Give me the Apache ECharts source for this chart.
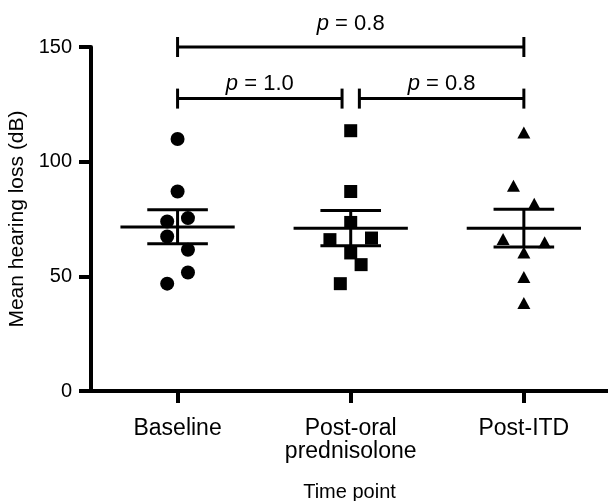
<!DOCTYPE html>
<html>
<head>
<meta charset="utf-8">
<script src="https://cdn.jsdelivr.net/npm/echarts@6/dist/echarts.min.js"></script>
<style>
    html, body, #main {
        width: 100%;
        height: 100%;
        margin: 0;
        background: #fff;
    }
</style>
</head>
<body>
<div id="main"></div>
<script>
    var categories = ['Baseline', 'Post-oral\nprednisolone', 'Post-ITD'];
    var yTicks = [0, 50, 100, 150];

    // individual patients: [x position, dB]
    var baseline = [[1, 109.9], [1, 87.0], [1.06, 75.4], [0.94, 73.9], [0.94, 67.4], [1.06, 61.6], [1.06, 51.7], [0.94, 46.8]];
    var postOral = [[2, 113.5], [2, 87.0], [2, 73.5], [1.88, 66.0], [2.12, 66.7], [2, 60.2], [2.06, 55.1], [1.94, 46.8]];
    var postItd = [[3, 112.7], [2.94, 89.5], [3.06, 81.6], [2.88, 66.3], [3.12, 64.9], [3, 60.4], [3, 49.7], [3, 38.4]];

    // mean and SEM bars
    var means = [71.5, 71.0, 71.0];
    var semLow = [64.2, 63.3, 62.8];
    var semHigh = [79.0, 78.7, 79.3];

    // comparison brackets: from, to, height, label
    var bracketFrom = [1, 1, 2.05];
    var bracketTo = [3, 1.95, 3];
    var bracketY = [150, 127.5, 127.5];
    var bracketP = ['0.8', '1.0', '0.8'];

    var font = 'Liberation Sans, Arial, sans-serif';
    var chart = echarts.init(document.getElementById('main'));

    var barData = means.map(function (m, i) {
        return [i + 1, m, semLow[i], semHigh[i]];
    });
    var bracketData = bracketP.map(function (p, i) {
        return [bracketFrom[i], bracketTo[i], bracketY[i]];
    });

    function dots(name, symbol, size, data) {
        return {
            name: name,
            type: 'scatter',
            symbol: symbol,
            symbolSize: size,
            itemStyle: {color: '#000', opacity: 1},
            emphasis: {disabled: true},
            data: data,
            z: 3
        };
    }

    chart.setOption({
        animation: false,
        grid: {left: 91, right: 0, top: 47, bottom: 110, containLabel: false, outerBoundsMode: 'none'},
        xAxis: {
            type: 'value',
            min: 0.5,
            max: 3.486,
            name: 'Time point',
            nameLocation: 'middle',
            nameGap: 91,
            nameTextStyle: {fontFamily: font, fontSize: 20, color: '#000'},
            splitLine: {show: false},
            axisLine: {lineStyle: {color: '#000', width: 4}},
            axisTick: {show: true, customValues: [1, 2, 3], length: 12, lineStyle: {color: '#000', width: 4}},
            axisLabel: {
                customValues: [1, 2, 3],
                formatter: function (v) { return categories[Math.round(v) - 1]; },
                margin: 26,
                fontFamily: font,
                fontSize: 23,
                lineHeight: 23,
                color: '#000'
            }
        },
        yAxis: {
            type: 'value',
            min: 0,
            max: 150,
            interval: 50,
            name: 'Mean hearing loss (dB)',
            nameLocation: 'middle',
            nameGap: 57,
            nameTextStyle: {fontFamily: font, fontSize: 21, color: '#000'},
            splitLine: {show: false},
            axisLine: {show: true, lineStyle: {color: '#000', width: 4}},
            axisTick: {show: true, length: 12, lineStyle: {color: '#000', width: 4}},
            axisLabel: {
                customValues: yTicks,
                margin: 19,
                fontFamily: font,
                fontSize: 20,
                color: '#000'
            }
        },
        series: [
            dots('Baseline', 'circle', 14, baseline),
            dots('Post-oral prednisolone', 'rect', 13, postOral),
            dots('Post-ITD', 'triangle', [13, 12], postItd),
            {
                type: 'custom',
                name: 'mean ± SEM',
                data: barData,
                z: 4,
                renderItem: function (params, api) {
                    var x = api.value(0);
                    var m = api.value(1), lo = api.value(2), hi = api.value(3);
                    var st = {stroke: '#000', lineWidth: 3};
                    function seg(x1, y1, x2, y2) {
                        var a = api.coord([x1, y1]), b = api.coord([x2, y2]);
                        return {type: 'line', shape: {x1: a[0], y1: a[1], x2: b[0], y2: b[1]}, style: st};
                    }
                    return {
                        type: 'group',
                        children: [
                            seg(x - 0.33, m, x + 0.33, m),
                            seg(x, lo, x, hi),
                            seg(x - 0.175, lo, x + 0.175, lo),
                            seg(x - 0.175, hi, x + 0.175, hi)
                        ]
                    };
                }
            },
            {
                type: 'custom',
                name: 'p values',
                data: bracketData,
                z: 4,
                renderItem: function (params, api) {
                    var a = api.coord([api.value(0), api.value(2)]);
                    var b = api.coord([api.value(1), api.value(2)]);
                    var st = {stroke: '#000', lineWidth: 3};
                    var gap = params.dataIndex === 0 ? 12 : 4;
                    return {
                        type: 'group',
                        children: [
                            {type: 'line', shape: {x1: a[0], y1: a[1], x2: b[0], y2: b[1]}, style: st},
                            {type: 'line', shape: {x1: a[0], y1: a[1] - 10, x2: a[0], y2: a[1] + 10}, style: st},
                            {type: 'line', shape: {x1: b[0], y1: b[1] - 10, x2: b[0], y2: b[1] + 10}, style: st},
                            {
                                type: 'text',
                                style: {
                                    x: (a[0] + b[0]) / 2,
                                    y: a[1] - gap,
                                    text: '{i|p} = ' + bracketP[params.dataIndex],
                                    align: 'center',
                                    verticalAlign: 'bottom',
                                    fontFamily: font,
                                    fontSize: 22,
                                    fill: '#000',
                                    rich: {i: {fontStyle: 'italic', fontFamily: font, fontSize: 22}}
                                }
                            }
                        ]
                    };
                }
            }
        ]
    });
</script>
</body>
</html>
